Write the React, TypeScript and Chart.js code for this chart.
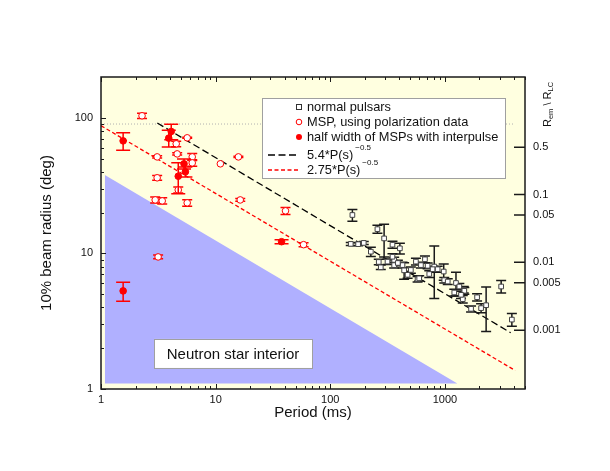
import { useEffect, useRef } from 'react';
import { Chart, registerables } from 'chart.js';

Chart.register(...registerables);

// ---------------- data ----------------
// normal pulsars: period (ms), 10% beam radius (deg), error (deg)
const normalP = [156, 258, 295, 175, 226, 349, 405, 276, 316, 361, 441, 473, 559, 670, 707, 808, 782, 865, 977, 731, 578, 988, 1059, 1250, 1337, 1462, 1208, 1432, 1910, 2290, 2070, 1692, 3097, 3840, 349, 361, 427, 597, 1478, 1383, 151, 265, 389, 505, 618, 196];
const normalRho = [19.2, 15.1, 12.9, 11.7, 10.3, 11.6, 10.9, 7.9, 8.7, 8.95, 7.5, 6.95, 8.7, 9.05, 8.1, 8.0, 7.65, 7.65, 7.35, 7.05, 6.45, 6.35, 6.2, 6.05, 5.7, 5.4, 5.15, 4.6, 4.75, 4.15, 3.95, 3.9, 5.7, 3.25, 9.45, 8.2, 8.2, 6.55, 5.3, 4.95, 11.75, 8.65, 8.5, 7.55, 8.2, 11.95];
const normalErr = [1.9, 1.0, 3.5, 0.3, 0.8, 0.7, 1.0, 0.3, 0.4, 0.4, 1.05, 0.4, 0.5, 0.5, 0.4, 3.35, 0.4, 0.4, 1.0, 0.4, 0.3, 0.3, 0.3, 1.2, 0.3, 0.3, 0.3, 0.3, 0.3, 1.5, 0.3, 0.2, 0.6, 0.35, 0.5, 0.4, 0.4, 0.3, 0.3, 0.3, 0.3, 0.4, 0.4, 0.4, 0.4, 0.3];

// MSPs, using polarization data
const mspPolP = [2.28, 3.09, 3.09, 2.97, 3.42, 4.53, 4.62, 5.65, 6.25, 6.25, 4.72, 5.65, 11.0, 15.8, 16.4, 40.7, 58.5, 3.15];
const mspPolRho = [103.5, 51.5, 36.1, 24.8, 24.4, 64.3, 54.2, 71.2, 51.5, 46.5, 29.4, 23.6, 45.8, 51.5, 24.8, 20.6, 11.6, 9.42];
const mspPolErr = [4.5, 1.0, 1.5, 1.3, 1.3, 3.0, 1.0, 0.6, 3.0, 2.5, 1.5, 1.3, 0, 0.5, 0.6, 1.2, 0.4, 0.3];

// half width of MSPs with interpulse
const mspIpP = [1.56, 4.1, 3.9, 4.72, 5.3, 5.45, 1.56, 37.6];
const mspIpRho = [67.6, 79.3, 70.8, 37.1, 45.8, 40.0, 5.29, 12.2];
const mspIpErr = [10, 10.5, 10, 9.5, 3.8, 3.4, 0.85, 0.4];

// fitted lines (as drawn)
const fitBlackP = [3.1, 3750];
const fitBlackRho = [91.5, 2.6];
const fitRedP = [1, 4100];
const fitRedRho = [87.5, 1.37];

// light-cylinder level (R_em = R_LC)
const lcP = [1, 3950];
const lcRho = [90, 90];

// neutron star interior region
const nsP = [1.08, 1285];
const nsRho = [37.9, 1.1];
const nsFloor = 1.1;

// axes
const xMin = 1, xMax = 5000;
const yMin = 1, yMax = 200;
const xMajor = [1, 10, 100, 1000];
const xMajorLabels = ['1', '10', '100', '1000'];
const yMajor = [1, 10, 100];
const yMajorLabels = ['1', '10', '100'];
const rTicks = [0.5, 0.1, 0.05, 0.01, 0.005, 0.001];
const rTickLabels = ['0.5', '0.1', '0.05', '0.01', '0.005', '0.001'];
const RHO_PER_SQRT_R = 85.94; // rho(deg) = 1.5 rad * sqrt(R_em/R_LC)

const FONT = '"Liberation Sans", Arial, Helvetica, sans-serif';
const RED = '#ff0000';
const BLUE = '#b0b0ff';
const YELLOW = '#ffffe0';

const toPts = (xs: number[], ys: number[]) => xs.map((x, i) => ({ x, y: ys[i] }));

const chartPlugin = {
  id: 'pulsarDecor',
  beforeDatasetsDraw(chart: any) {
    const { ctx, chartArea: a } = chart;
    ctx.save();
    ctx.fillStyle = YELLOW;
    ctx.fillRect(a.left, a.top, a.right - a.left, a.bottom - a.top);
    ctx.restore();
  },
  beforeDatasetDraw(chart: any, args: any) {
    const ds = chart.data.datasets[args.index];
    if (!ds.errors) return;
    const { ctx } = chart;
    const xs = chart.scales.x, ys = chart.scales.y;
    ctx.save();
    ctx.strokeStyle = ds.errColor;
    ctx.lineWidth = 1.5;
    ds.data.forEach((p: any, i: number) => {
      const e = ds.errors[i];
      if (!e) return;
      const px = xs.getPixelForValue(p.x);
      const y1 = ys.getPixelForValue(p.y + e);
      const y2 = ys.getPixelForValue(p.y - e);
      const h = ds.capHalf;
      ctx.beginPath();
      ctx.moveTo(px, y1); ctx.lineTo(px, y2);
      ctx.moveTo(px - h, y1); ctx.lineTo(px + h, y1);
      ctx.moveTo(px - h, y2); ctx.lineTo(px + h, y2);
      ctx.stroke();
    });
    ctx.restore();
  },
  afterDatasetsDraw(chart: any) {
    const { ctx, chartArea: a } = chart;
    const xs = chart.scales.x, ys = chart.scales.y;
    ctx.save();

    // frame
    ctx.strokeStyle = '#1a1a1a';
    ctx.lineWidth = 1.5;
    ctx.strokeRect(a.left, a.top, a.right - a.left, a.bottom - a.top);

    // ticks (inward)
    ctx.lineWidth = 1;
    ctx.beginPath();
    for (const d of [1, 10, 100, 1000]) {
      for (let m = 1; m < 10; m++) {
        const v = m * d;
        if (v > xMax) break;
        const px = Math.round(xs.getPixelForValue(v)) + 0.5;
        const len = m === 1 ? 5 : 3;
        ctx.moveTo(px, a.bottom); ctx.lineTo(px, a.bottom - len);
        ctx.moveTo(px, a.top); ctx.lineTo(px, a.top + len);
      }
    }
    for (const d of [1, 10, 100]) {
      for (let m = 1; m < 10; m++) {
        const v = m * d;
        if (v >= yMax) break;
        const py = Math.round(ys.getPixelForValue(v)) + 0.5;
        const len = m === 1 ? 5 : 3;
        ctx.moveTo(a.left, py); ctx.lineTo(a.left + len, py);
      }
    }
    ctx.stroke();
    ctx.lineWidth = 1.5;
    ctx.beginPath();
    rTicks.forEach((r) => {
      const py = ys.getPixelForValue(RHO_PER_SQRT_R * Math.sqrt(r));
      ctx.moveTo(a.right - 11, py); ctx.lineTo(a.right, py);
    });
    ctx.stroke();

    // tick labels
    ctx.fillStyle = '#111';
    ctx.font = `11px ${FONT}`;
    ctx.textBaseline = 'middle';
    ctx.textAlign = 'center';
    xMajor.forEach((v, i) => ctx.fillText(xMajorLabels[i], xs.getPixelForValue(v), a.bottom + 11));
    ctx.textAlign = 'right';
    yMajor.forEach((v, i) => ctx.fillText(yMajorLabels[i], a.left - 8, ys.getPixelForValue(v)));
    ctx.textAlign = 'left';
    rTicks.forEach((r, i) => ctx.fillText(rTickLabels[i], a.right + 8, ys.getPixelForValue(RHO_PER_SQRT_R * Math.sqrt(r))));

    // axis titles
    ctx.font = `15px ${FONT}`;
    ctx.textAlign = 'center';
    ctx.fillText('Period (ms)', (a.left + a.right) / 2, a.bottom + 24);
    ctx.save();
    ctx.translate(a.left - 54, (a.top + a.bottom) / 2);
    ctx.rotate(-Math.PI / 2);
    ctx.fillText('10% beam radius (deg)', 0, 0);
    ctx.restore();

    // right title R_em \ R_LC
    ctx.save();
    ctx.translate(a.right + 23, a.top + 50);
    ctx.rotate(-Math.PI / 2);
    ctx.textAlign = 'left';
    let cx = 0;
    const part = (t: string, size: number, dy: number) => {
      ctx.font = `${size}px ${FONT}`;
      ctx.fillText(t, cx, dy);
      cx += ctx.measureText(t).width;
    };
    part('R', 11, 0);
    part('em', 7.5, 3);
    part(' \\ ', 11, 0);
    part('R', 11, 0);
    part('LC', 7.5, 3);
    ctx.restore();

    // legend
    const lx = a.left + 161, ly = a.top + 21, lw = 243, lh = 80;
    ctx.fillStyle = '#fff';
    ctx.fillRect(lx, ly, lw, lh);
    ctx.strokeStyle = '#a0a0a0';
    ctx.lineWidth = 1;
    ctx.strokeRect(lx + 0.5, ly + 0.5, lw, lh);
    const mx = lx + 37, tx = lx + 45;
    const rows = [ly + 9, ly + 24, ly + 39, ly + 57, ly + 72];
    // markers
    ctx.strokeStyle = '#333';
    ctx.fillStyle = '#fff';
    ctx.fillRect(mx - 2.5, rows[0] - 2.5, 5, 5);
    ctx.strokeRect(mx - 2.5, rows[0] - 2.5, 5, 5);
    ctx.strokeStyle = RED;
    ctx.beginPath(); ctx.arc(mx, rows[1], 2.8, 0, Math.PI * 2); ctx.fill(); ctx.stroke();
    ctx.fillStyle = RED;
    ctx.beginPath(); ctx.arc(mx, rows[2], 3, 0, Math.PI * 2); ctx.fill();
    ctx.lineWidth = 1.3;
    ctx.strokeStyle = '#000';
    ctx.setLineDash([7, 3.5]);
    ctx.beginPath(); ctx.moveTo(lx + 6, rows[3]); ctx.lineTo(lx + 36, rows[3]); ctx.stroke();
    ctx.strokeStyle = RED;
    ctx.setLineDash([4, 2.5]);
    ctx.beginPath(); ctx.moveTo(lx + 6, rows[4]); ctx.lineTo(lx + 36, rows[4]); ctx.stroke();
    ctx.setLineDash([]);
    // texts
    ctx.fillStyle = '#111';
    ctx.font = `12.8px ${FONT}`;
    ctx.textAlign = 'left';
    ctx.textBaseline = 'middle';
    ctx.fillText('normal pulsars', tx, rows[0]);
    ctx.fillText('MSP, using polarization data', tx, rows[1]);
    ctx.fillText('half width of MSPs with interpulse', tx, rows[2]);
    const withSup = (base: string, sup: string, y: number) => {
      ctx.font = `12.8px ${FONT}`;
      ctx.fillText(base, tx, y);
      const w = ctx.measureText(base).width;
      ctx.font = `8px ${FONT}`;
      ctx.fillText(sup, tx + w + 2, y - 7);
    };
    withSup('5.4*P(s)', '\u22120.5', rows[3]);
    withSup('2.75*P(s)', '\u22120.5', rows[4]);

    // neutron star interior label
    const bx = xs.getPixelForValue(2.9), by = ys.getPixelForValue(2.34);
    const bw = 158, bh = 29;
    ctx.fillStyle = '#fff';
    ctx.fillRect(bx, by, bw, bh);
    ctx.strokeStyle = '#a0a0a0';
    ctx.lineWidth = 1;
    ctx.strokeRect(Math.round(bx) + 0.5, Math.round(by) + 0.5, bw, bh);
    ctx.fillStyle = '#111';
    ctx.font = `15px ${FONT}`;
    ctx.textAlign = 'center';
    ctx.fillText('Neutron star interior', bx + bw / 2, by + bh / 2 + 1);

    ctx.restore();
  },
};

export default function App() {
  const ref = useRef<HTMLCanvasElement>(null);
  useEffect(() => {
    const canvas = ref.current;
    if (!canvas) return;
    const chart = new Chart(canvas, {
      type: 'line',
      data: {
        datasets: [
          {
            label: 'normal pulsars',
            data: toPts(normalP, normalRho),
            showLine: false,
            pointStyle: 'rect',
            pointRadius: 3.3,
            pointBackgroundColor: '#fff',
            pointBorderColor: '#444',
            pointBorderWidth: 1,
            order: 3,
            errors: normalErr,
            errColor: '#1a1a1a',
            capHalf: 5,
          } as any,
          {
            label: 'MSP, using polarization data',
            data: toPts(mspPolP, mspPolRho),
            showLine: false,
            pointStyle: 'circle',
            pointRadius: 3.3,
            pointBackgroundColor: '#fff',
            pointBorderColor: RED,
            pointBorderWidth: 1,
            order: 2,
            errors: mspPolErr,
            errColor: RED,
            capHalf: 5,
          } as any,
          {
            label: 'half width of MSPs with interpulse',
            data: toPts(mspIpP, mspIpRho),
            showLine: false,
            pointStyle: 'circle',
            pointRadius: 3.3,
            pointBackgroundColor: RED,
            pointBorderColor: RED,
            pointBorderWidth: 1,
            order: 1,
            errors: mspIpErr,
            errColor: RED,
            capHalf: 7,
          } as any,
          {
            label: '5.4*P(s)^-0.5',
            data: toPts(fitBlackP, fitBlackRho),
            showLine: true,
            borderColor: '#000',
            borderWidth: 1.3,
            borderDash: [7, 3.5],
            pointRadius: 0,
            fill: false,
            order: 5,
          },
          {
            label: '2.75*P(s)^-0.5',
            data: toPts(fitRedP, fitRedRho),
            showLine: true,
            borderColor: RED,
            borderWidth: 1.3,
            borderDash: [4, 2.5],
            pointRadius: 0,
            fill: false,
            order: 5,
          },
          {
            label: 'R_em = R_LC',
            data: toPts(lcP, lcRho),
            showLine: true,
            borderColor: '#b0b0b0',
            borderWidth: 1,
            borderDash: [1, 2],
            pointRadius: 0,
            fill: false,
            order: 6,
          },
          {
            label: 'Neutron star interior',
            data: toPts(nsP, nsRho),
            showLine: true,
            borderColor: 'transparent',
            borderWidth: 0,
            backgroundColor: BLUE,
            pointRadius: 0,
            fill: { value: nsFloor },
            order: 10,
          },
        ],
      },
      options: {
        animation: false,
        responsive: false,
        events: [],
        layout: { padding: { left: 101, right: 85, top: 77, bottom: 82 } },
        scales: {
          x: { type: 'logarithmic', min: xMin, max: xMax, display: false },
          y: { type: 'logarithmic', min: yMin, max: yMax, display: false },
        },
        plugins: {
          legend: { display: false },
          tooltip: { enabled: false },
        },
      },
      plugins: [chartPlugin],
    });
    return () => chart.destroy();
  }, []);

  return (
    <div style={{ position: 'absolute', left: 0, top: 0, width: 610, height: 471, background: '#fff' }}>
      <canvas ref={ref} width={610} height={471} style={{ width: 610, height: 471, display: 'block' }} />
    </div>
  );
}
